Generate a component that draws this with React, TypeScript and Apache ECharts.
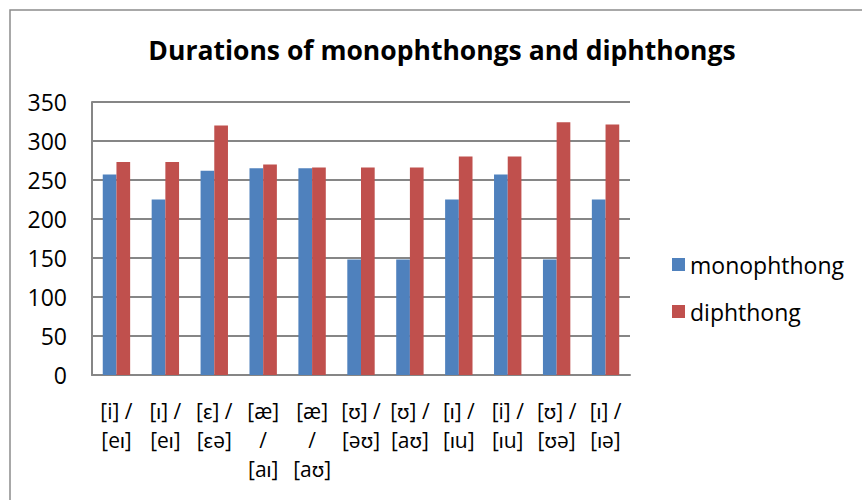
import React, { useEffect, useRef } from "react";
import * as echarts from "echarts";

const categories = [
  "[i] /\n[eɪ]",
  "[ɪ] /\n[eɪ]",
  "[ɛ] /\n[ɛə]",
  "[æ]\n/\n[aɪ]",
  "[æ]\n/\n[aʊ]",
  "[ʊ] /\n[əʊ]",
  "[ʊ] /\n[aʊ]",
  "[ɪ] /\n[ɪu]",
  "[i] /\n[ɪu]",
  "[ʊ] /\n[ʊə]",
  "[ɪ] /\n[ɪə]",
];
const monophthong = [257, 225, 262, 265, 265, 148, 148, 225, 257, 148, 225];
const diphthong = [273, 273, 320, 270, 266, 266, 266, 280, 280, 324, 321];
const yTicks = { min: 0, max: 350, interval: 50 };

const FONT = "'Open Sans', Lato, sans-serif";

export default function App() {
  const ref = useRef<HTMLDivElement>(null);
  useEffect(() => {
    if (!ref.current) return;
    const chart = echarts.init(ref.current, null, { renderer: "svg" });
    chart.setOption({
      animation: false,
      backgroundColor: "#fff",
      graphic: [
        {
          type: "rect",
          shape: { x: 10, y: 10, width: 900, height: 550 },
          style: { fill: "none", stroke: "#8c8c8c", lineWidth: 1.5 },
          silent: true,
        },
      ],
      title: {
        text: "Durations of monophthongs and diphthongs",
        left: 442,
        textAlign: "center",
        top: 36,
        padding: 0,
        textStyle: { fontFamily: FONT, fontWeight: "bold", fontSize: 26.5, color: "#000" },
      },
      legend: {
        orient: "vertical",
        left: 672,
        top: 253,
        padding: 0,
        itemWidth: 13,
        itemHeight: 13,
        itemGap: 24,
        icon: "rect",
        textStyle: { fontFamily: FONT, fontSize: 23, color: "#000" },
        data: ["monophthong", "diphthong"],
      },
      grid: { left: 92, right: 232, top: 102, bottom: 125 },
      xAxis: {
        type: "category",
        data: categories,
        axisLine: { lineStyle: { color: "#868686", width: 2 } },
        axisTick: { show: false },
        axisLabel: {
          interval: 0,
          fontFamily: FONT,
          fontSize: 21,
          lineHeight: 29,
          color: "#000",
          margin: 21,
        },
      },
      yAxis: {
        type: "value",
        min: yTicks.min,
        max: yTicks.max,
        interval: yTicks.interval,
        axisLine: { show: true, lineStyle: { color: "#868686", width: 2 } },
        axisTick: { show: false },
        splitLine: { lineStyle: { color: "#868686", width: 2 } },
        axisLabel: { fontFamily: FONT, fontSize: 23, color: "#000", margin: 25 },
      },
      series: [
        {
          name: "monophthong",
          type: "bar",
          data: monophthong,
          itemStyle: { color: "#4F81BD" },
          barGap: "0%",
          barCategoryGap: "44%",
        },
        {
          name: "diphthong",
          type: "bar",
          data: diphthong,
          itemStyle: { color: "#C0504D" },
          barGap: "0%",
          barCategoryGap: "44%",
        },
      ],
    });
    return () => chart.dispose();
  }, []);
  return (
    <div
      ref={ref}
      style={{ position: "fixed", left: 0, top: 0, width: 862, height: 500 }}
    />
  );
}
